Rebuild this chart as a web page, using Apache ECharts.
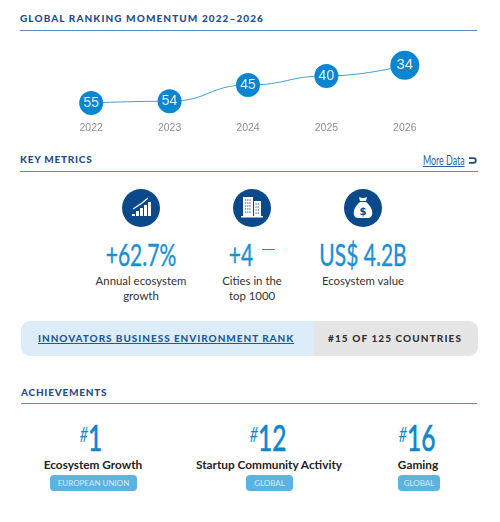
<!DOCTYPE html>
<html>
<head>
<meta charset="utf-8">
<script src="https://cdn.jsdelivr.net/npm/echarts@6/dist/echarts.min.js"></script>
<style>
    html, body { margin: 0; padding: 0; background: #fff; }
    #page { position: relative; width: 500px; height: 522px; overflow: hidden; font-family: Lato, sans-serif; }
    #page div { position: absolute; white-space: nowrap; }
    #rankChart { left: 0; top: 30px; width: 500px; height: 112px; }
    .heading { color: #1f4e86; font-size: 10px; font-weight: 900; letter-spacing: 0.75px; line-height: 12px; }
    .rule { height: 1px; background: #5c8cc4; }
    .center { transform: translateX(-50%); text-align: center; }
    .icon { width: 38px; height: 38px; top: 189px; border-radius: 50%; background: #0b4a8a; margin-left: -19px; }
    svg { display: block; }
    .value { top: 236px; color: #1c90d3; font-size: 30px; line-height: 36px; -webkit-text-stroke: 0.4px #1c90d3; transform: translateX(-50%) scaleX(0.7); }
    .label { top: 274px; color: #333; font-size: 11.4px; line-height: 14.5px; white-space: pre !important; }
    .rank { top: 414px; color: #0d86cc; font-size: 36px; line-height: 40px; -webkit-text-stroke: 0.7px #0d86cc; transform: translateX(-50%) scaleX(0.68); }
    .rank span { font-size: 21px; font-style: italic; vertical-align: 9px; -webkit-text-stroke: 0; }
    .name { top: 458px; color: #222; font-size: 11.8px; font-weight: 700; line-height: 14px; }
    .pill { top: 475px; height: 16px; line-height: 16px; border-radius: 4px; background: #5cb3e2; color: #d5ecf9; font-size: 8px; text-align: center; }
</style>
</head>
<body>
<div id="page">
    <div class="heading" style="left:20px;top:12px;letter-spacing:1.09px">GLOBAL RANKING MOMENTUM 2022–2026</div>
    <div class="rule" style="left:20px;top:30px;width:457px"></div>
    <div id="rankChart"></div>

    <div class="heading" style="left:20px;top:153px">KEY METRICS</div>
    <div style="left:423px;top:153px;color:#2a5f9e;font-size:13px;line-height:15px;text-decoration:underline;transform:scaleX(0.68);transform-origin:left">More Data</div>
    <div style="left:468px;top:156px;width:9px;height:9px">
        <svg width="9" height="9" viewBox="0 0 9 9"><path d="M1 2.2 H5.5 A2.3 2.3 0 0 1 5.5 6.8 H1" fill="none" stroke="#1f4e86" stroke-width="1.8"/></svg>
    </div>
    <div class="rule" style="left:20px;top:171px;width:458px"></div>

    <div class="icon" style="left:141px">
        <svg width="38" height="38" viewBox="0 0 38 38" fill="#fff">
            <rect x="10" y="25" width="3" height="2"/><rect x="14" y="22" width="3" height="5"/><rect x="18" y="19" width="3" height="8"/><rect x="22" y="16" width="3" height="11"/><rect x="26" y="13" width="3" height="14"/>
            <path d="M11 20 L20 14 L26 9" fill="none" stroke="#fff" stroke-width="1.2"/>
        </svg>
    </div>
    <div class="icon" style="left:252px">
        <svg width="38" height="38" viewBox="0 0 38 38" fill="#fff">
            <rect x="10" y="8" width="10" height="19"/><rect x="21" y="12" width="7" height="15"/><rect x="8" y="27" width="22" height="1.5"/>
            <path d="M12 11 h6 M12 14 h6 M12 17 h6 M12 20 h6 M12 23 h6 M22.5 15 h4 M22.5 18 h4 M22.5 21 h4 M22.5 24 h4" stroke="#0b4a8a" stroke-width="1.2" stroke-dasharray="1.2 1"/>
        </svg>
    </div>
    <div class="icon" style="left:363px">
        <svg width="38" height="38" viewBox="0 0 38 38" fill="#fff">
            <path d="M15 8 Q19 10 23 8 L22 12 H16 Z"/>
            <path d="M16 13 H22 C27 17 29 22 28 26 Q27 29 24 29 H14 Q11 29 10 26 C9 22 11 17 16 13 Z"/>
            <text x="19" y="26" text-anchor="middle" font-family="DejaVu Sans" font-weight="700" font-size="10" fill="#0b4a8a">$</text>
        </svg>
    </div>

    <div id="metrics"></div>

    <div style="left:21px;top:321px;width:293px;height:35px;background:#dcedf9;border-radius:9px 0 0 9px"></div>
    <div style="left:314px;top:321px;width:164px;height:35px;background:#e5e5e6;border-radius:0 9px 9px 0"></div>
    <div style="left:38px;top:321px;color:#1f5a96;font-size:10px;font-weight:900;line-height:35px;letter-spacing:0.95px;text-decoration:underline">INNOVATORS BUSINESS ENVIRONMENT RANK</div>
    <div style="left:328px;top:321px;color:#333;font-size:10px;font-weight:900;line-height:35px;letter-spacing:1.1px">#15 OF 125 COUNTRIES</div>

    <div class="heading" style="left:21px;top:386px">ACHIEVEMENTS</div>
    <div class="rule" style="left:21px;top:403px;width:456px"></div>

    <div id="achievements"></div>
</div>

<script>
var years = ['2022', '2023', '2024', '2025', '2026'];
var ranks = [55, 54, 45, 40, 34];

var metricValues = ['+62.7%', '+4', 'US$ 4.2B'];
var metricLabels = ['Annual ecosystem\ngrowth', 'Cities in the\ntop 1000', 'Ecosystem value'];

var achievementRanks = ['1', '12', '16'];
var achievementNames = ['Ecosystem Growth', 'Startup Community Activity', 'Gaming'];
var achievementScopes = ['EUROPEAN UNION', 'GLOBAL', 'GLOBAL'];

loadMetrics();
loadAchievements();
loadRankChart();

function loadRankChart() {
    var last = ranks.length - 1;
    var chart = echarts.init(document.getElementById('rankChart'));
    chart.setOption({
        animation: false,
        grid: { left: 52, right: 56, top: 19, bottom: 21 },
        xAxis: {
            type: 'category',
            data: years,
            axisLine: { show: false },
            axisTick: { show: false },
            axisLabel: { color: '#8f8f8f', fontSize: 10.5, fontFamily: 'Liberation Sans', margin: 2 }
        },
        yAxis: {
            type: 'value',
            inverse: true,
            min: 25,
            max: 65,
            show: false
        },
        series: [{
            type: 'line',
            data: ranks.map(function (rank, i) {
                return i === last ? { value: rank, label: { fontSize: 15 } } : rank;
            }),
            smooth: 0.5,
            smoothMonotone: 'x',
            symbol: 'circle',
            symbolSize: function (value, params) {
                return params.dataIndex === last ? 29 : 24;
            },
            lineStyle: { color: '#3d9fd9', width: 1 },
            itemStyle: { color: '#0a85d1' },
            label: {
                show: true,
                position: 'inside',
                color: '#e6f3fb',
                fontSize: 14,
                fontFamily: 'Liberation Sans'
            }
        }]
    });
}

function loadMetrics() {
    var centers = [141, 241, 363];
    var labelCenters = [141, 252, 363];
    var html = '';
    for (var i = 0; i < metricValues.length; i++) {
        html += '<div class="value" style="left:' + centers[i] + 'px">' + metricValues[i] + '</div>';
        html += '<div class="label center" style="left:' + labelCenters[i] + 'px">' + metricLabels[i] + '</div>';
    }
    // the little dash next to +4
    html += '<div style="left:262px;top:249px;width:13px;height:1px;background:#1c90d3"></div>';
    document.getElementById('metrics').innerHTML = html;
}

function loadAchievements() {
    var rankCenters = [91, 268, 417];
    var nameCenters = [93, 269, 418];
    var pillLefts = [50, 246, 398];
    var pillWidths = [87, 47, 42];
    var html = '';
    for (var i = 0; i < achievementRanks.length; i++) {
        html += '<div class="rank" style="left:' + rankCenters[i] + 'px"><span>#</span>' + achievementRanks[i] + '</div>';
        html += '<div class="name center" style="left:' + nameCenters[i] + 'px">' + achievementNames[i] + '</div>';
        html += '<div class="pill" style="left:' + pillLefts[i] + 'px;width:' + pillWidths[i] + 'px">' + achievementScopes[i] + '</div>';
    }
    document.getElementById('achievements').innerHTML = html;
}
</script>
</body>
</html>
